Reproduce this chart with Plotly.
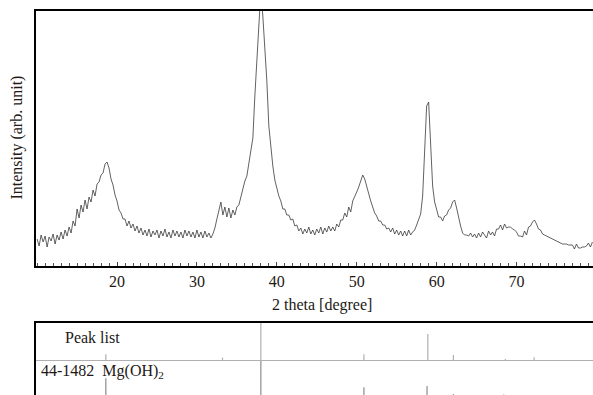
import plotly.graph_objects as go

# XRD pattern at 0.25 deg steps (arb. units)
intensity = [
    27, 20, 31, 24,   30, 19, 29, 25,   32, 22, 31, 26,   34, 27, 36, 30,   # 10-13
    39, 33, 45, 40,   57, 48, 61, 54,   66, 57, 69, 64,   76, 70, 82, 84,   # 14-17
    91, 93, 102, 104, 98, 87, 81, 71,   65, 56, 53, 47,   47, 40, 45, 38,   # 18-21
    42, 35, 40, 33,   38, 31, 36, 30,   37, 29, 35, 31,   36, 28, 35, 30,   # 22-25
    37, 29, 34, 28,   36, 30, 35, 29,   34, 28, 36, 30,   35, 29, 34, 28,   # 26-29
    36, 29, 34, 28,   35, 29, 33, 28,   32, 38, 47, 55,   64, 51, 59, 49,   # 30-33
    58, 48, 56, 51,   59, 61, 69, 78,   85, 90, 104, 118, 128, 170, 205, 235, # 34-37
    275, 250, 220, 185, 140, 118, 100, 86, 77, 70, 65, 57, 57, 51, 51, 46,  # 38-41
    47, 40, 41, 35,   38, 32, 37, 33,   39, 32, 36, 31,   37, 33, 39, 32,   # 42-45
    38, 34, 40, 35,   39, 35, 42, 39,   46, 46, 53, 49,   59, 54, 65, 69,   # 46-49
    74, 79, 85, 91,   87, 79, 73, 65,   59, 53, 50, 45,   45, 41, 41, 37,   # 50-53
    38, 34, 38, 32,   36, 31, 35, 30,   35, 30, 36, 31,   34, 36, 41, 46,   # 54-57
    52, 70, 125, 160, 164, 118, 80, 64, 56, 49, 49, 45,   50, 51, 56, 58,   # 58-61
    64, 66, 58, 48,   40, 33, 31, 31,   30, 33, 29, 32,   28, 33, 29, 34,   # 62-65
    31, 28, 35, 31,   34, 30, 37, 37,   41, 36, 42, 38,   39, 39, 37, 36,   # 66-69
    34, 30, 30, 29,   35, 31, 39, 40,   44, 46, 42, 37,   36, 32, 31, 30,   # 70-73
    29, 28, 27, 26,   25, 24, 23, 22,   22, 22, 21, 21,   21, 17, 22, 18,   # 74-77
    18, 19, 19, 20,   23, 19, 24,                                           # 78-79.5
]
two_theta = [10 + 0.25 * i for i in range(len(intensity))]

# peak list of the measured pattern (relative height, %)
peak_pos = [18.6, 33.2, 38.0, 50.9, 58.9, 62.1, 68.6, 72.2]
peak_rel = [18, 9, 100, 18, 71, 16, 5, 10]

# JCPDS 44-1482 Mg(OH)2 reference lines (relative intensity, %)
ref_pos = [18.6, 33.0, 38.0, 50.9, 58.8, 62.1, 68.4, 72.1]
ref_rel = [56, 10, 100, 33, 36, 15, 14, 13]

TXT = "#231815"
FONT = "Liberation Serif"


def sticks(pos, rel):
    xs, ys = [], []
    for p, r in zip(pos, rel):
        xs += [p, p, None]
        ys += [0, r, None]
    return xs, ys


fig = go.Figure()

fig.add_trace(go.Scatter(
    x=two_theta, y=intensity, mode="lines",
    line=dict(color="#3a3a3a", width=0.8),
    xaxis="x", yaxis="y", showlegend=False,
))

px_, py_ = sticks(peak_pos, peak_rel)
fig.add_trace(go.Scatter(
    x=px_, y=py_, mode="lines",
    line=dict(color="#b0b0b0", width=1.2),
    xaxis="x2", yaxis="y2", showlegend=False,
))

rx_, ry_ = sticks(ref_pos, ref_rel)
fig.add_trace(go.Scatter(
    x=rx_, y=ry_, mode="lines",
    line=dict(color="#8c8c8c", width=1.2),
    xaxis="x3", yaxis="y3", showlegend=False,
))

xr = [9.86, 79.57]

# baseline of the peak list row
fig.add_shape(type="line", xref="paper", yref="y2", x0=0, x1=1, y0=0, y1=0,
              line=dict(color="#b0b0b0", width=2))

fig.add_annotation(text="Intensity (arb. unit)", xref="paper", yref="paper",
                   x=-0.034, y=0.6706, textangle=-90, showarrow=False,
                   xanchor="center", yanchor="middle",
                   font=dict(family=FONT, size=16, color=TXT))
fig.add_annotation(text="2 theta [degree]", xref="paper", yref="paper",
                   x=0.5135, y=0.234, showarrow=False,
                   xanchor="center", yanchor="middle",
                   font=dict(family=FONT, size=16, color=TXT))
fig.add_annotation(text="Peak list", xref="paper", yref="paper",
                   x=0.0485, y=0.151, showarrow=False,
                   xanchor="left", yanchor="middle",
                   font=dict(family=FONT, size=16, color=TXT))
fig.add_annotation(text="44-1482\u00a0\u00a0Mg(OH)<sub>2</sub>", xref="paper", yref="paper",
                   x=0.006, y=0.06, showarrow=False,
                   xanchor="left", yanchor="middle",
                   font=dict(family=FONT, size=16, color=TXT))

fig.update_layout(
    width=593, height=395,
    margin=dict(l=36, r=0, t=11, b=0),
    paper_bgcolor="white", plot_bgcolor="white",
    font=dict(family=FONT, size=16, color=TXT),
    xaxis=dict(
        range=xr, anchor="y", domain=[0, 1],
        showline=True, linecolor="black", linewidth=1.5, mirror=True,
        ticks="inside", ticklen=4, tickcolor="#444", tickwidth=1,
        tickvals=[20, 30, 40, 50, 60, 70],
        minor=dict(dtick=1, ticks="inside", ticklen=3, tickcolor="#555"),
        showgrid=False, zeroline=False,
        tickfont=dict(family=FONT, size=16, color=TXT),
    ),
    yaxis=dict(
        range=[0, 255], domain=[0.3359, 1], anchor="x",
        showline=True, linecolor="black", linewidth=1.5,
        showticklabels=False, ticks="", showgrid=False, zeroline=False,
    ),
    xaxis2=dict(
        range=xr, anchor="y2", domain=[0, 1], side="top",
        showline=True, linecolor="black", linewidth=1.5,
        showticklabels=False, ticks="", showgrid=False, zeroline=False,
    ),
    yaxis2=dict(
        range=[0, 100], domain=[0.0885, 0.1875], anchor="x2",
        showline=True, linecolor="black", linewidth=1.5,
        showticklabels=False, ticks="", showgrid=False, zeroline=False,
    ),
    xaxis3=dict(
        range=xr, anchor="y3", domain=[0, 1], visible=False,
    ),
    yaxis3=dict(
        range=[12.8, 100], domain=[0, 0.0885], anchor="x3",
        showline=True, linecolor="black", linewidth=1.5,
        showticklabels=False, ticks="", showgrid=False, zeroline=False,
    ),
)

fig.write_html(
    "out.html",
    config={"displayModeBar": False},
    post_script="document.body.style.margin='0';document.body.style.overflow='hidden';",
)
